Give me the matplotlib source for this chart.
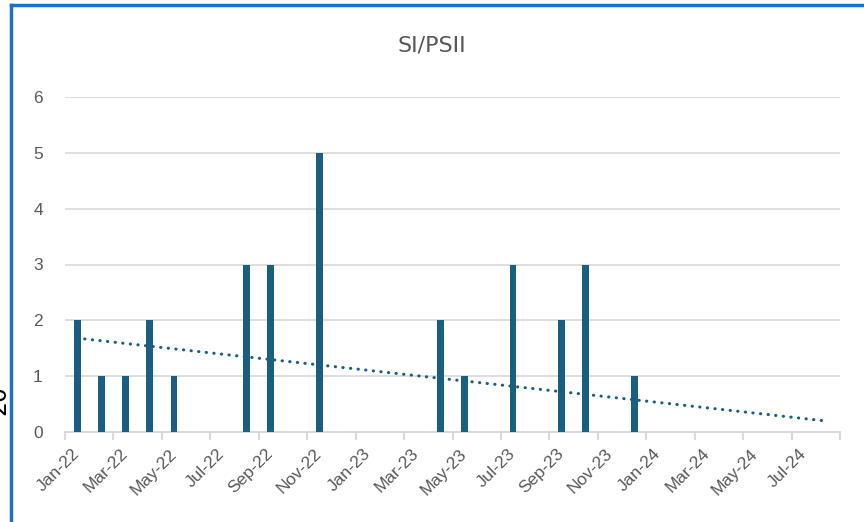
import numpy as np
import pandas as pd
import matplotlib
matplotlib.use("Agg")
import matplotlib.pyplot as plt
from matplotlib.lines import Line2D

# monthly counts Jan-22 .. Aug-24
months = pd.date_range("2022-01-01", periods=32, freq="MS")
counts = [2, 1, 1, 2, 1, 0, 0, 3, 3, 0, 5, 0,
          0, 0, 0, 2, 1, 0, 3, 0, 2, 3, 0, 1,
          0, 0, 0, 0, 0, 0, 0, 0]
title = "SI/PSII"

bar_color = "#1A5E80"
grid_color = "#D9D9D9"
text_color = "#595959"

W, H = 864, 522
fig = plt.figure(figsize=(W / 100, H / 100), dpi=100)
ax = fig.add_axes([65 / W, 1 - 432 / H, (840 - 65) / W, (432 - 97) / H])

x = np.arange(len(months))
ax.bar(x, counts, width=0.28, color=bar_color, zorder=3)

# linear trendline like Excel's
slope, intercept = np.polyfit(x, counts, 1)
ax.plot(x[[0, -1]], intercept + slope * x[[0, -1]], color=bar_color,
        linestyle=(0, (0.1, 2.4)), linewidth=2.2, dash_capstyle="round", zorder=4)

ax.set_xlim(-0.5, len(months) - 0.5)
ax.set_ylim(0, 6)
ax.set_yticks(range(7))
ax.yaxis.grid(True, color=grid_color, linewidth=1.2)
ax.set_axisbelow(True)

for side in ["left", "right", "top"]:
    ax.spines[side].set_visible(False)
ax.spines["bottom"].set_color(grid_color)
ax.spines["bottom"].set_linewidth(1.5)

# tick marks at month starts, labels every 2 months at month centres
ax.set_xticks(np.arange(-0.5, len(months), 2))
ax.set_xticklabels([])
ax.tick_params(axis="x", which="major", length=6, width=1.5, color=grid_color)
ax.set_xticks(x[::2], minor=True)
ax.set_xticklabels([m.strftime("%b-%y") for m in months[::2]], minor=True,
                   rotation=45, ha="right", va="center", rotation_mode="anchor",
                   color=text_color, fontsize=12.5, family="Liberation Sans")
ax.tick_params(axis="x", which="minor", length=0, pad=14)
ax.tick_params(axis="y", length=0, pad=16, labelcolor=text_color, labelsize=12.5)
for lbl in ax.get_yticklabels():
    lbl.set_family("Liberation Sans")

fig.text(0.5, 1 - 45 / H, title, ha="center", va="center", fontsize=16,
         color=text_color, family=["Liberation Sans Narrow", "DejaVu Sans"])

# selected-chart border and clipped text from the sheet behind
fig.add_artist(Line2D([11 / W, 11 / W], [0, 1 - 5 / H], color="#1F6FC5", linewidth=2.5))
fig.add_artist(Line2D([11 / W, 1], [1 - 5 / H, 1 - 5 / H], color="#1F6FC5", linewidth=2.5))
fig.text(10 / W, 1 - 400 / H, "20", rotation=90, ha="right", va="center",
         fontsize=17, color="black")

fig.savefig("out.png", dpi=100)
